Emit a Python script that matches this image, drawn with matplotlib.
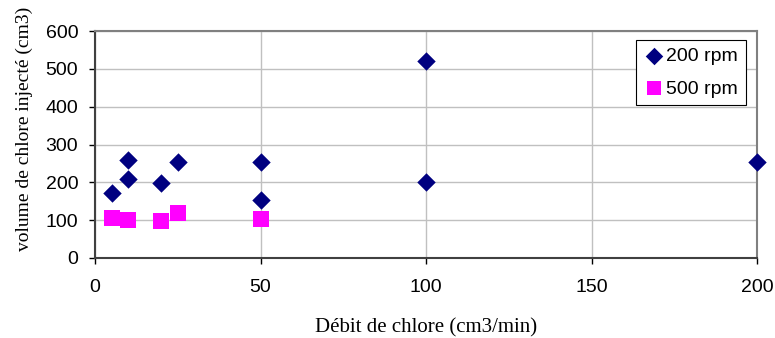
import matplotlib
matplotlib.use("Agg")
import matplotlib.pyplot as plt

x200 = [5, 10, 10, 20, 25, 50, 50, 100, 100, 200]
y200 = [172, 260, 210, 197, 255, 153, 253, 522, 200, 253]
x500 = [5, 10, 20, 25, 50]
y500 = [107, 100, 97, 120, 103]

fig = plt.figure(figsize=(7.75, 3.38), dpi=100)
ax = fig.add_axes([95/775, 1-258/338, (757-95)/775, (258-31)/338])

ax.scatter(x200, y200, marker='D', s=88, color='#000080', label='200 rpm', zorder=3,
           linewidths=0, clip_on=False)
ax.scatter(x500, y500, marker='s', s=118, color='#FF00FF', label='500 rpm', zorder=3,
           linewidths=0, clip_on=False)

ax.set_xlim(0, 200)
ax.set_ylim(0, 600)
ax.set_xticks([0, 50, 100, 150, 200])
ax.set_yticks(range(0, 601, 100))
ax.grid(True, color='#c0c0c0', linewidth=1)
ax.set_axisbelow(True)
for s in ['top', 'right']:
    ax.spines[s].set_color('#808080')
    ax.spines[s].set_linewidth(1.5)
for s in ['left', 'bottom']:
    ax.spines[s].set_color('#404040')
    ax.spines[s].set_linewidth(1.5)
ax.tick_params(labelsize=14, direction='out', length=4, width=1)
ax.tick_params(axis='x', pad=11)
ax.tick_params(axis='y', pad=8)
for lab in ax.get_xticklabels() + ax.get_yticklabels():
    lab.set_fontfamily('Liberation Sans')

ax.set_xlabel('Débit de chlore (cm3/min)', fontfamily='Liberation Serif', fontsize=15, labelpad=16)
ax.set_ylabel('volume de chlore injecté (cm3)', fontfamily='Liberation Serif', fontsize=14)
ax.yaxis.set_label_coords(-0.094, 0.568)

leg = ax.legend(loc='upper right', bbox_to_anchor=((746-95)/662, (258-40)/227), borderaxespad=0,
                prop={'family': 'Liberation Sans', 'size': 14},
                fancybox=False, edgecolor='black', framealpha=1, handletextpad=0.15, borderpad=0.4,
                labelspacing=0.75, handlelength=1.0, markerscale=0.95)
leg.get_frame().set_linewidth(0.8)

fig.savefig('out.png', dpi=100)
